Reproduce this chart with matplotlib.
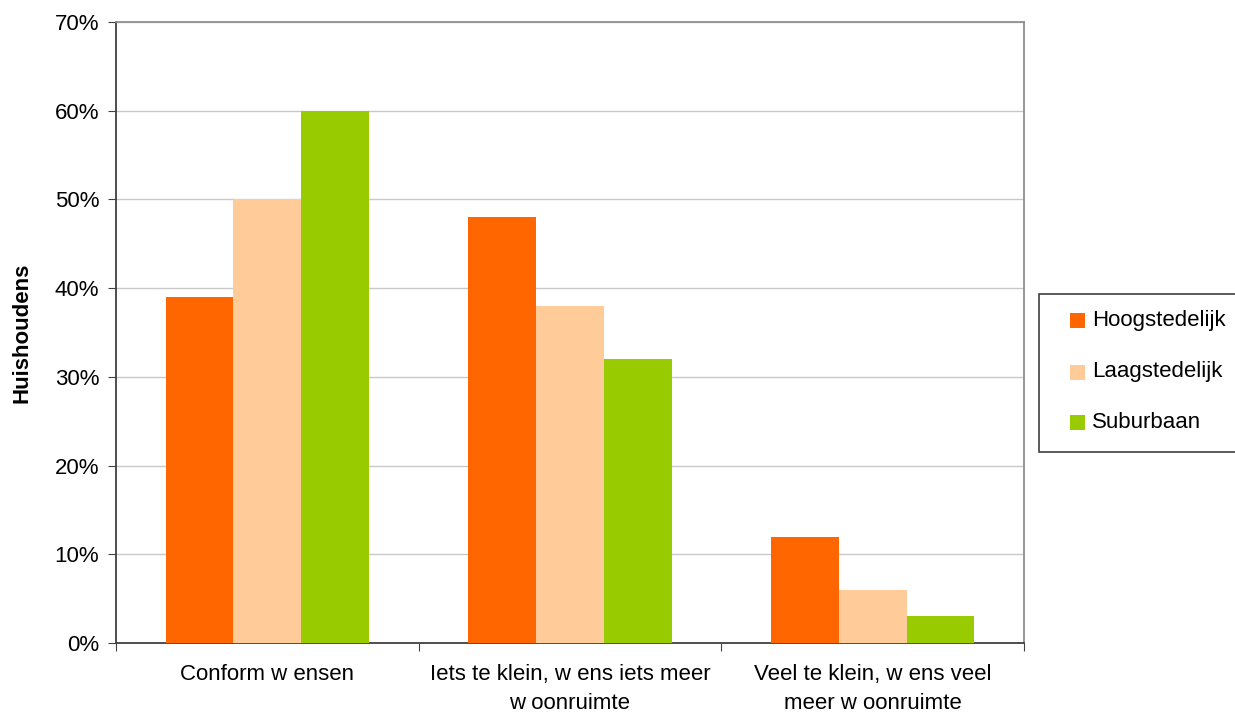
import matplotlib
matplotlib.use("Agg")
import matplotlib.pyplot as plt
from matplotlib.patches import Rectangle
import numpy as np

categories = ["Conform w ensen", "Iets te klein, w ens iets meer\nw oonruimte", "Veel te klein, w ens veel\nmeer w oonruimte"]
series_names = ["Hoogstedelijk", "Laagstedelijk", "Suburbaan"]
hoog = [39, 48, 12]
laag = [50, 38, 6]
sub = [60, 32, 3]
colors = ["#FF6600", "#FFCC99", "#99CC00"]
yticks = [0, 10, 20, 30, 40, 50, 60, 70]
ytick_labels = ["0%", "10%", "20%", "30%", "40%", "50%", "60%", "70%"]

plt.rcParams['font.family'] = ['Liberation Sans', 'DejaVu Sans']
FS = 16

W, H = 1235, 715
fig = plt.figure(figsize=(W / 100, H / 100), dpi=100)
ax = fig.add_axes([116/W, 72/H, 908/W, 621/H])

x = np.arange(len(categories))
w = 0.224
for i, (vals, c) in enumerate(zip([hoog, laag, sub], colors)):
    ax.bar(x + (i - 1) * w, vals, width=w, color=c, edgecolor='none', zorder=3)

ax.set_xlim(-0.5, 2.5)
ax.set_ylim(0, 70)
ax.set_yticks(yticks)
ax.set_yticklabels(ytick_labels, fontsize=FS)
ax.yaxis.grid(True, color='#C8C8C8', linewidth=1, zorder=0)

ax.set_xticks([-0.5, 0.5, 1.5, 2.5])
ax.set_xticklabels([])
ax.set_xticks(x, minor=True)
ax.set_xticklabels(categories, minor=True, fontsize=FS)
ax.tick_params(axis='x', which='minor', length=0, pad=15)
ax.tick_params(axis='x', which='major', length=6, direction='out', color='#404040')
ax.tick_params(axis='y', length=6, direction='out', color='#404040', pad=6)
for lab in ax.get_xticklabels(minor=True):
    lab.set_linespacing(1.5)

for s in ['left', 'bottom']:
    ax.spines[s].set_color('#404040')
    ax.spines[s].set_linewidth(1.3)
for s in ['right', 'top']:
    ax.spines[s].set_color('#909090')
    ax.spines[s].set_linewidth(1.3)

ax.set_ylabel("Huishoudens", fontsize=FS, fontweight='bold')
ax.yaxis.set_label_coords((33 - 116) / 908, 0.5)

# legend drawn manually in figure pixel coordinates
def fx(px):
    return px / W

def fy(py):
    return (H - py) / H

fig.patches.append(Rectangle((fx(1039), fy(452)), fx(1240) - fx(1039), fy(294) - fy(452),
                             transform=fig.transFigure, facecolor='white',
                             edgecolor='#404040', linewidth=1.2, zorder=5))
row_y = [320, 372, 422]
for name, c, ry in zip(series_names, colors, row_y):
    fig.patches.append(Rectangle((fx(1070), fy(ry + 7.5)), fx(1085) - fx(1070), fy(ry - 7.5) - fy(ry + 7.5),
                                 transform=fig.transFigure, facecolor=c, edgecolor='none', zorder=6))
    fig.text(fx(1092), fy(ry), name, fontsize=FS, va='center', ha='left', zorder=7)

fig.savefig("out.png", dpi=100)
